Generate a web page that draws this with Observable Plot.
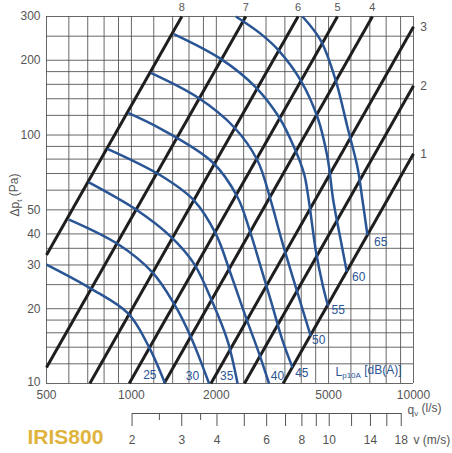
<!DOCTYPE html>
<html><head><meta charset="utf-8">
<script src="https://cdn.jsdelivr.net/npm/d3@7"></script>
<script src="https://cdn.jsdelivr.net/npm/@observablehq/plot@0.6"></script>
<style>body{margin:0;background:#fff;} svg{display:block}</style>
</head><body><div id="chart"></div>
<script>
// ---- axes / grid ----
const qTicks = [500, 1000, 2000, 5000, 10000];
const pTicks = [20, 30, 40, 50, 100, 200, 300];
const pTickBottom = [10];
const qGrid = [500,600,700,800,900,1000,1200,1400,1600,1800,2000,2500,3000,3500,4000,4500,5000,6000,7000,8000,9000,10000];
const pGrid = [10,12,14,16,18,20,25,30,35,40,50,60,70,80,90,100,120,140,160,180,200,250,300];

// ---- velocity axis (duct Ø 800 mm) ----
const ductDiameter = 0.8; // m
const vTicksLong = [2,3,4,5,6,7,8,9,10,12,14,16,18];
const vTicksShort = [2.5,3.5];
const vLabels = [2,3,4,6,8,10,14,18];

// ---- black system lines (damper positions) ----
const lineNames  = ["8","7","6","5","4","3","2","1"];
const lineStartQ = [500, 500, 712, 982, 1306, 1914, 2516, 3450];
const lineStartP = [32.9, 11.6, 10, 10, 10, 10, 10, 10];
const lineEndQ   = [1509, 2544, 3897, 5376, 7152, 10000, 10000, 10000];
const lineEndP   = [300, 300, 300, 300, 300, 273, 158, 84];

// ---- blue sound level curves Lp10A ----
const levels = [25,30,35,40,45,50,55,60,65];
const curveQ = [
  [500,718,975,1155,1316],
  [601,892,1187,1417,1624,1885],
  [704,1050,1379,1668,1939,2190,2378],
  [822,1271,1668,1992,2250,2544,2836,3076],
  [973,1271,1939,2378,2650,2875,3119,3432,3724],
  [1171,1715,2312,2799,3119,3413,3857,4324],
  [1414,2074,2760,3338,3773,4094,4255,4504,4769,4979],
  [2345,2875,3330,3985,4567,4955,5196,5524,5800],
  [4040,4692,5302,5834,6330,6596,6868]
];
const curveP = [
  [30.1,24.1,19.1,14.0,10],
  [45.7,36.5,28.0,20.9,15.4,10],
  [64.6,49.7,39.0,30.3,21.2,14.9,10],
  [88,68.7,54.5,40,27.6,18.5,13.2,10],
  [122.8,105.9,77.7,56.2,40,29.4,21.6,14.9,11.6],
  [178,141.9,107.5,79,54.5,37.6,23.7,15.5],
  [255,202.6,155.7,117.9,89.3,69.8,54.5,34.3,24.8,20.5],
  [300,255.4,218.8,165.7,117.9,81.4,54.5,37.6,28.2],
  [300,240.1,165.7,107.5,74.2,54.5,39.5]
];
const levelLabelQ = [1162,1646,2178,3295,4018,4616,5411,6397,7656];
const levelLabelP = [10.8,10.67,10.67,10.67,10.97,14.9,19.7,26.7,36.9];

// ---- build tables ----
const blackLines = lineNames.flatMap((n,i)=>[
  {name:n,q:lineStartQ[i],p:lineStartP[i]},
  {name:n,q:lineEndQ[i],p:lineEndP[i]}
]);
const blueCurves = levels.flatMap((L,i)=>curveQ[i].map((q,j)=>({level:L,q,p:curveP[i][j]})));
const topLabels = lineNames.map((n,i)=>({name:n,q:lineEndQ[i],p:lineEndP[i]})).filter(d=>d.p===300);
const rightLabels = lineNames.map((n,i)=>({name:n,q:lineEndQ[i],p:lineEndP[i]})).filter(d=>d.p!==300);
const levelLabels = levels.map((L,i)=>({L,q:levelLabelQ[i],p:levelLabelP[i]}));

const area = Math.PI*(ductDiameter/2)**2*1000; // l/s per m/s
const toQ = v => v*area;

const grey = "#555";
const blue = "#2a5595";
const font = "'Liberation Sans', Arial, sans-serif";

const chart = Plot.plot({
  width: 452, height: 453,
  marginLeft: 46, marginRight: 39, marginTop: 16, marginBottom: 70,
  style: {fontFamily: font, fontSize: "12px", color: grey, background: "#fff"},
  x: {type: "log", domain: [500, 10000], axis: null},
  y: {type: "log", domain: [10, 300], axis: null},
  marks: [
    Plot.gridX(qGrid, {stroke: "#4d4d4d", strokeOpacity: 0.85, strokeWidth: 1}),
    Plot.gridY(pGrid, {stroke: "#4d4d4d", strokeOpacity: 0.85, strokeWidth: 1}),
    Plot.text(qTicks, {x: d => d, frameAnchor: "bottom", dy: 15, text: d => String(d), fill: grey, fontSize: 12}),
    Plot.text(pTicks, {y: d => d, frameAnchor: "left", dx: -6, textAnchor: "end", text: d => String(d), fill: grey, fontSize: 12}),
    Plot.text(pTickBottom, {y: d => d, frameAnchor: "left", dx: -6, dy: -1.5, textAnchor: "end", text: d => String(d), fill: grey, fontSize: 12}),
    Plot.line(blackLines, {x: "q", y: "p", z: "name", stroke: "#1e1e1e", strokeWidth: 3, strokeLinecap: "butt"}),
    Plot.line(blueCurves, {x: "q", y: "p", z: "level", stroke: blue, strokeWidth: 2.5, curve: "catmull-rom", strokeLinecap: "butt"}),
    Plot.text(topLabels, {x: "q", y: "p", text: "name", dy: -9, fill: grey, fontSize: 11}),
    Plot.text(rightLabels, {x: "q", y: "p", text: "name", dx: 10, fill: grey, fontSize: 12}),
    Plot.text(levelLabels, {x: "q", y: "p", text: d => String(d.L), fill: blue, fontSize: 12}),
    Plot.text(["LSUBLABEL"], {frameAnchor: "bottom-right", dx: -78, dy: -8, textAnchor: "start", fill: blue, fontSize: 12}),
    Plot.text(["YSUBLABEL"], {frameAnchor: "left", rotate: -90, dx: -31, dy: -5, textAnchor: "middle", fill: grey, fontSize: 12}),
    Plot.text(["QSUBLABEL"], {frameAnchor: "bottom-right", dx: -6, dy: 30, textAnchor: "start", fill: grey, fontSize: 12}),
    // velocity axis
    Plot.link([{a: 2, b: 18}], {x1: d => toQ(d.a), x2: d => toQ(d.b), y1: () => 10, y2: () => 10, dy: 30, stroke: grey, strokeWidth: 1}),
    Plot.axisX(vTicksLong.map(toQ), {dy: 30, tickSize: 13, tickFormat: () => "", label: null, stroke: grey}),
    Plot.axisX(vTicksShort.map(toQ), {dy: 30, tickSize: 7, tickFormat: () => "", label: null, stroke: grey}),
    Plot.text(vLabels, {x: toQ, frameAnchor: "bottom", dy: 60, text: d => String(d), fill: grey, fontSize: 12}),
    Plot.text(["v (m/s)"], {frameAnchor: "bottom-right", dx: 0, dy: 60, textAnchor: "start", fill: grey, fontSize: 12}),
    Plot.text(["IRIS800"], {frameAnchor: "bottom-left", dx: -19, dy: 60, textAnchor: "start", fill: "#e0b43c", fontSize: 21, fontWeight: "bold"})
  ]
});
document.getElementById("chart").appendChild(chart);

// subscripts
d3.select(chart).selectAll("text").each(function(){
  const t = this.textContent;
  const sel = d3.select(this);
  function build(parts){
    sel.text(null);
    parts.forEach(([s, sub])=>{
      const ts = sel.append("tspan").text(s);
      if (sub) ts.attr("font-size", "8px").attr("dy", "0.3em");
      else if (sel.selectAll("tspan").size() > 1) ts.attr("dy", "-0.3em");
    });
  }
  if (t === "LSUBLABEL") build([["L",0],["p10A",1],[" [dB(A)]",0]]);
  else if (t === "YSUBLABEL") build([["\u0394p",0],["t",1],[" (Pa)",0]]);
  else if (t === "QSUBLABEL") build([["q",0],["v",1],[" (l/s)",0]]);
});
</script>
</body></html>
